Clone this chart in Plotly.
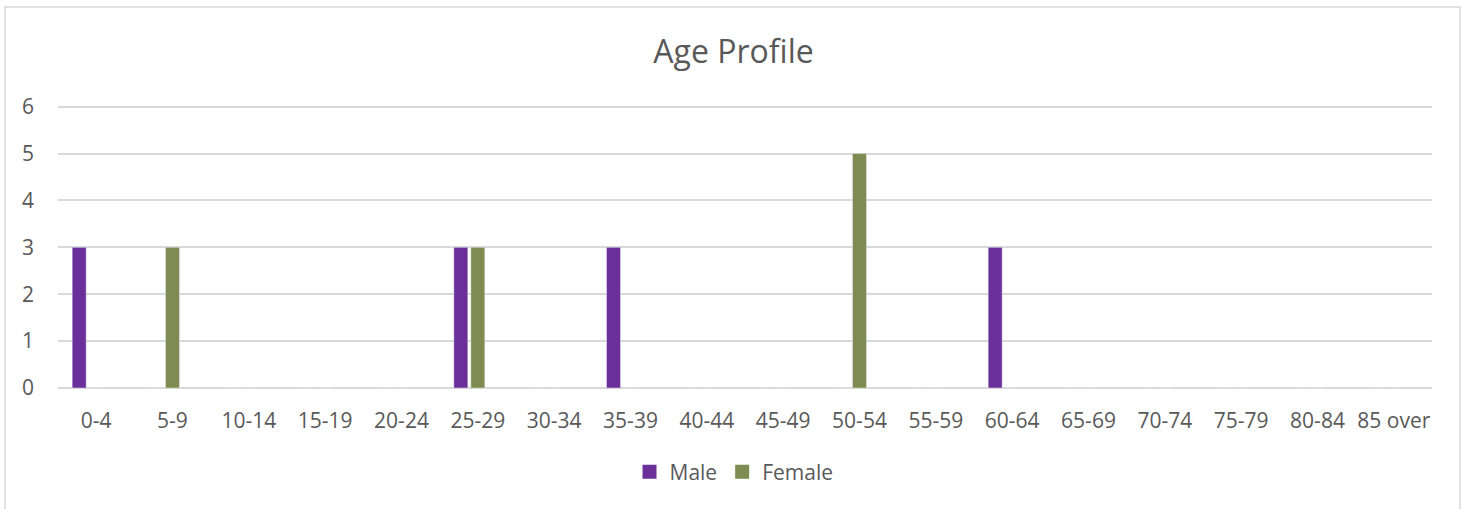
import plotly.graph_objects as go

categories = ["0-4", "5-9", "10-14", "15-19", "20-24", "25-29", "30-34", "35-39",
              "40-44", "45-49", "50-54", "55-59", "60-64", "65-69", "70-74",
              "75-79", "80-84", "85 over"]
male = [3, 0, 0, 0, 0, 3, 0, 3, 0, 0, 0, 0, 3, 0, 0, 0, 0, 0]
female = [0, 3, 0, 0, 0, 3, 0, 0, 0, 0, 5, 0, 0, 0, 0, 0, 0, 0]
series_names = ["Male", "Female"]
series_colors = ["#6A2F98", "#7F8B51"]

W, H = 1467, 509
L, R, T, B = 58, 35, 102, 121
pw = W - L - R
ph = H - T - B
cat_px = pw / len(categories)
bar_w = 14 / cat_px

fig = go.Figure()
for vals, name, col, off in [(male, series_names[0], series_colors[0], -24),
                             (female, series_names[1], series_colors[1], -7)]:
    fig.add_trace(go.Bar(x=categories, y=vals, name=name, marker_color=col,
                         width=bar_w, offset=off / cat_px, showlegend=False))
# legend-only entries with square swatches
for name, col in zip(series_names, series_colors):
    fig.add_trace(go.Scatter(x=[None], y=[None], mode="markers", name=name,
                             marker=dict(symbol="square", size=14, color=col)))

font = "Open Sans, DejaVu Sans, sans-serif"
fig.update_layout(
    width=W, height=H,
    margin=dict(l=L, r=R, t=T, b=B, autoexpand=False),
    paper_bgcolor="white", plot_bgcolor="white",
    title=dict(text="Age Profile", x=0.5, xref="container", xanchor="center",
               y=1 - 52 / H, yanchor="middle",
               font=dict(family=font, size=32, color="#595959")),
    font=dict(family=font, color="#595959", size=21),
    barmode="group",
    showlegend=True,
    legend=dict(orientation="h", x=0.492, xanchor="center", y=(ph - (472 - T)) / ph,
                yanchor="middle", font=dict(size=21, color="#595959"),
                itemwidth=30, traceorder="normal", tracegroupgap=0),
    xaxis=dict(showgrid=False, showline=False, ticks="", ticklabelstandoff=18,
               tickfont=dict(size=21, color="#595959")),
    yaxis=dict(range=[0, 6.1], tickvals=[0, 1, 2, 3, 4, 5, 6], showgrid=True,
               gridcolor="#D9D9D9", gridwidth=1.5,
               zeroline=True, zerolinecolor="#D9D9D9", zerolinewidth=1.5,
               ticks="", ticklabelstandoff=23, tickfont=dict(size=21, color="#595959")),
    shapes=[dict(type="rect", xref="paper", yref="paper",
                 x0=(5 - L) / pw, x1=(1460 - L) / pw,
                 y0=(ph - (H + 5 - T)) / ph, y1=(ph - (7 - T)) / ph,
                 line=dict(color="#D9D9D9", width=1.5), fillcolor="rgba(0,0,0,0)",
                 layer="below")],
)

fig.write_html("out.html", config={"displayModeBar": False},
               post_script="document.body.style.margin='0';")
